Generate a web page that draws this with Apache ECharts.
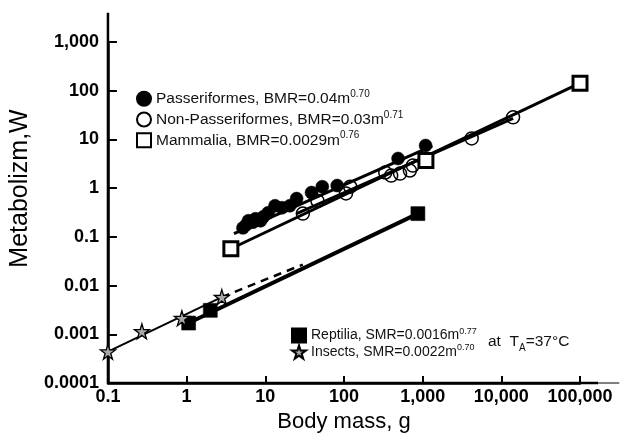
<!DOCTYPE html>
<html lang="en">
<head>
    <meta charset="UTF-8">
    <title>Metabolism vs body mass</title>
    <script type="text/javascript" src="https://cdn.jsdelivr.net/npm/echarts@6/dist/echarts.min.js"></script>
    <style>
        html, body { margin: 0; padding: 0; background: #fff; }
        #chart { width: 627px; height: 439px; }
    </style>
</head>
<body>
<div id="chart"></div>
<script>
    // tick labels
    var xTickLabels = ['0.1', '1', '10', '100', '1,000', '10,000', '100,000'];
    var yTickLabels = ['0.0001', '0.001', '0.01', '0.1', '1', '10', '100', '1,000'];

    // Passeriformes (filled circles)
    var passerMass = [5.2, 5.8, 6.1, 7.0, 7.5, 8.7, 9.5, 10.9, 13.3, 16.3, 20.5, 25, 38.7, 53, 82, 487, 1090];
    var passerBMR = [0.153, 0.18, 0.214, 0.20, 0.235, 0.214, 0.26, 0.313, 0.435, 0.396, 0.435, 0.61, 0.81, 1.07, 1.13, 4.06, 7.5];

    // Non-Passeriformes (open circles)
    var nonPasserMass = [30, 46, 106, 120, 335, 398, 516, 688, 750, 4200, 14100];
    var nonPasserBMR = [0.30, 0.55, 0.78, 1.07, 2.09, 1.81, 1.99, 2.3, 2.9, 10.5, 28.4];

    // Mammalia (open squares)
    var mammalMass = [3.65, 1100, 100000];
    var mammalBMR = [0.057, 3.7, 143];

    // Reptilia (filled squares)
    var reptMass = [1.06, 2.0, 870];
    var reptSMR = [0.0017, 0.0031, 0.30];

    // Insects (stars)
    var insectMass = [0.1, 0.27, 0.87, 2.8];
    var insectSMR = [0.00044, 0.00115, 0.00214, 0.0058];

    // fitted lines, end points
    var passerLine = [[4.0, 0.117], [1330, 7.4]];
    var nonPasserLine = [[25, 0.30], [14100, 27]];
    var mammalLine = [[3.65, 0.057], [100000, 143]];
    var reptLine = [[1.06, 0.0017], [870, 0.30]];
    var insectLine = [[0.1, 0.00044], [2.8, 0.0058]];
    var insectDash = [[2.8, 0.0058], [30, 0.027]];

    var STAR = 'path://M50,0 L61,35 L98,35 L68,57 L79,91 L50,70 L21,91 L32,57 L2,35 L39,35 Z';
    var FONT = '"Liberation Sans", Arial, sans-serif';

    function pairs(xs, ys) {
        var out = [];
        for (var i = 0; i < xs.length; i++) {
            out.push([xs[i], ys[i]]);
        }
        return out;
    }

    function fitLine(name, data, width, dash) {
        return {
            name: name, type: 'line', data: data, symbol: 'none', z: 3,
            lineStyle: {color: '#000', width: width, type: dash ? [8, 6] : 'solid'},
            silent: true, animation: false
        };
    }

    var legendText = {
        'Passeriformes': '{n|Passeriformes, BMR=0.04m}{s|0.70}',
        'Non-Passeriformes': '{n|Non-Passeriformes, BMR=0.03m}{s|0.71}',
        'Mammalia': '{n|Mammalia, BMR=0.0029m}{s|0.76}',
        'Reptilia': '{m|Reptilia, SMR=0.0016m}{t|0.77}',
        'Insects': '{m|Insects, SMR=0.0022m}{t|0.70}'
    };

    var chart = echarts.init(document.getElementById('chart'));

    var option = {
        animation: false,
        backgroundColor: '#fff',
        grid: {left: 100, right: 47, top: 42, bottom: 56},
        xAxis: {
            type: 'log', logBase: 10, min: 0.1, max: 100000,
            name: 'Body mass, g', nameLocation: 'middle', nameGap: 25,
            nameTextStyle: {fontFamily: FONT, fontSize: 22, color: '#000'},
            axisLine: {lineStyle: {color: '#000', width: 2.5}},
            axisTick: {inside: true, length: 7, lineStyle: {color: '#000', width: 2}},
            splitLine: {show: false},
            minorTick: {show: false},
            axisLabel: {
                margin: 5, color: '#000', fontFamily: FONT, fontWeight: 'bold', fontSize: 18,
                formatter: function (v) { return xTickLabels[Math.round(Math.log10(v)) + 1]; }
            }
        },
        yAxis: {
            type: 'log', logBase: 10, min: 0.0001, max: 1000,
            name: 'Metabolizm,W', nameLocation: 'middle', nameGap: 53,
            nameTextStyle: {fontFamily: FONT, fontSize: 25, color: '#000', padding: [0, 0, 0, 48]},
            axisLine: {lineStyle: {color: '#000', width: 2.5}},
            axisTick: {inside: true, length: 9, lineStyle: {color: '#000', width: 2}},
            splitLine: {show: false},
            axisLabel: {
                margin: 9, color: '#000', fontFamily: FONT, fontWeight: 'bold', fontSize: 18,
                formatter: function (v) { return yTickLabels[Math.round(Math.log10(v)) + 4]; }
            }
        },
        legend: [{
            data: ['Passeriformes', 'Non-Passeriformes', 'Mammalia'],
            orient: 'vertical', left: 136, top: 89, padding: 0,
            itemWidth: 14, itemHeight: 14, itemGap: 3, selectedMode: false,
            formatter: function (name) { return legendText[name]; },
            textStyle: {
                rich: {
                    n: {fontFamily: FONT, fontSize: 15.5, lineHeight: 19.5, color: '#111'},
                    s: {fontFamily: FONT, fontSize: 10, lineHeight: 9, verticalAlign: 'top', color: '#111'}
                }
            }
        }, {
            data: ['Reptilia', 'Insects'],
            orient: 'vertical', left: 291, top: 327, padding: 0,
            itemWidth: 14, itemHeight: 14, itemGap: 0, selectedMode: false,
            formatter: function (name) { return legendText[name]; },
            textStyle: {
                rich: {
                    m: {fontFamily: FONT, fontSize: 14, lineHeight: 17, color: '#111'},
                    t: {fontFamily: FONT, fontSize: 9, lineHeight: 8, verticalAlign: 'top', color: '#111'}
                }
            }
        }],
        series: [
            {
                name: 'Non-Passeriformes', type: 'scatter', symbol: 'circle', symbolSize: 13, z: 2,
                itemStyle: {color: 'rgba(255,255,255,0)', borderColor: '#000', borderWidth: 1.5, opacity: 1},
                data: pairs(nonPasserMass, nonPasserBMR)
            },
            fitLine('fitNonPasser', nonPasserLine, 3),
            fitLine('fitMammal', mammalLine, 3),
            fitLine('fitPasser', passerLine, 3),
            fitLine('fitRept', reptLine, 4),
            fitLine('fitInsect', insectLine, 2),
            fitLine('fitInsectDash', insectDash, 2.5, true),
            {
                name: 'Passeriformes', type: 'scatter', symbol: 'circle', symbolSize: 13, z: 4,
                itemStyle: {color: '#000', borderColor: '#000', borderWidth: 0.5, opacity: 1},
                data: pairs(passerMass, passerBMR)
            },
            {
                name: 'Mammalia', type: 'scatter', symbol: 'rect', symbolSize: 14, z: 4,
                itemStyle: {color: '#fff', borderColor: '#000', borderWidth: 3, opacity: 1},
                data: pairs(mammalMass, mammalBMR)
            },
            {
                name: 'Reptilia', type: 'scatter', symbol: 'rect', symbolSize: 14, z: 4,
                itemStyle: {color: '#000', borderColor: '#000', borderWidth: 0.5, opacity: 1},
                data: pairs(reptMass, reptSMR)
            },
            {
                name: 'Insects', type: 'scatter', symbol: STAR, symbolSize: 15, z: 4,
                itemStyle: {color: '#a8a8a8', borderColor: '#000', borderWidth: 1.3, opacity: 1},
                data: pairs(insectMass, insectSMR)
            }
        ]
    };

    chart.setOption(option);

    // axis lines run on a bit past the last ticks, as in the original figure
    var corner = chart.convertToPixel({gridIndex: 0}, [0.1, 0.0001]);
    var yTop = chart.convertToPixel({gridIndex: 0}, [0.1, 4000]);
    var xEnd = chart.convertToPixel({gridIndex: 0}, [170000, 0.0001]);
    var xThin = chart.convertToPixel({gridIndex: 0}, [316000, 0.0001]);

    chart.setOption({
        graphic: [
            {type: 'line', shape: {x1: corner[0], y1: corner[1], x2: yTop[0], y2: yTop[1]},
                style: {stroke: '#000', lineWidth: 2.5}},
            {type: 'line', shape: {x1: corner[0], y1: corner[1], x2: xEnd[0], y2: xEnd[1]},
                style: {stroke: '#000', lineWidth: 2.5}},
            {type: 'line', shape: {x1: xEnd[0], y1: xEnd[1], x2: xThin[0], y2: xThin[1]},
                style: {stroke: '#000', lineWidth: 1}},
            {
                type: 'text', left: 488, top: 334,
                style: {
                    text: '{a|at  T}{b|A}{a|=37°C}',
                    rich: {
                        a: {fontFamily: FONT, fontSize: 15.5, lineHeight: 19, fill: '#111', verticalAlign: 'top'},
                        b: {fontFamily: FONT, fontSize: 10, lineHeight: 10, fill: '#111', verticalAlign: 'bottom'}
                    }
                }
            }
        ]
    });
</script>
</body>
</html>
